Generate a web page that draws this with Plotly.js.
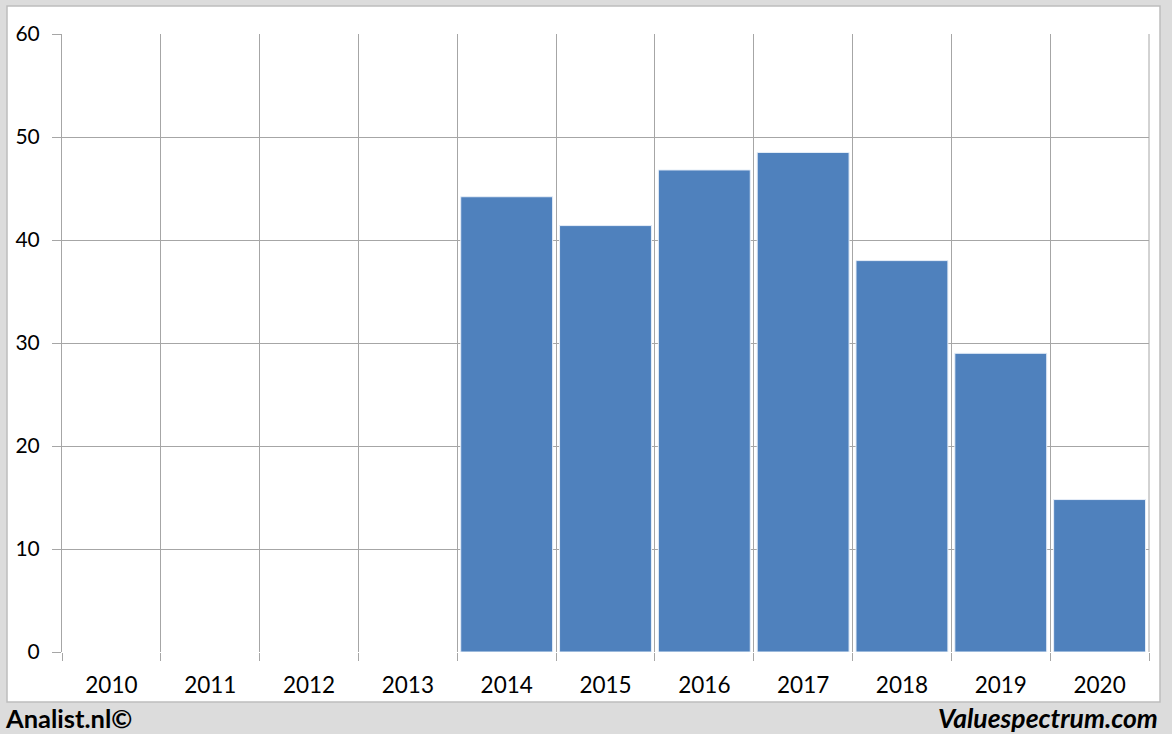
<!DOCTYPE html>
<html>
<head>
<meta charset="utf-8">
<script src="https://cdn.plot.ly/plotly-3.0.1.min.js"></script>
<style>
  html, body { margin: 0; padding: 0; background: #dcdcdc; }
  #chart { width: 1172px; height: 734px; }
</style>
</head>
<body>
<div id="chart"></div>
<script>
const years = ["2010","2011","2012","2013","2014","2015","2016","2017","2018","2019","2020"];
const values = [null, null, null, null, 44.2, 41.4, 46.8, 48.5, 38.0, 29.0, 14.8];
const yTicks = [0, 10, 20, 30, 40, 50, 60];
const leftCredit = "Analist.nl©";
const rightCredit = "Valuespectrum.com";

const trace = {
  type: "bar",
  x: years,
  y: values,
  width: 0.93,
  marker: { color: "#4f81bd", line: { color: "#e6eef8", width: 1 } },
  hoverinfo: "x+y"
};

const layout = {
  width: 1172,
  height: 734,
  margin: { l: 62, r: 23, t: 34, b: 82, pad: 0 },
  paper_bgcolor: "#dcdcdc",
  plot_bgcolor: "rgba(0,0,0,0)",
  showlegend: false,
  font: { family: "Lato, 'Open Sans', sans-serif", size: 21, color: "#000000" },
  xaxis: {
    type: "category",
    tickson: "boundaries",
    showgrid: true,
    gridcolor: "#a6a6a6",
    gridwidth: 1,
    ticks: "outside",
    ticklen: 8,
    tickcolor: "#a6a6a6",
    showline: false,
    zeroline: false,
    tickfont: { family: "Lato, sans-serif", size: 22.5, color: "#000" },
    ticklabelstandoff: 17,
    range: [-0.5, 10.5],
    fixedrange: true
  },
  yaxis: {
    range: [0, 60],
    tickvals: yTicks,
    ticktext: yTicks.map(String),
    showgrid: true,
    gridcolor: "#a6a6a6",
    gridwidth: 1,
    ticks: "outside",
    ticklen: 9,
    tickcolor: "#a6a6a6",
    showline: true,
    linecolor: "#a6a6a6",
    zeroline: false,
    tickfont: { family: "Lato, sans-serif", size: 21, color: "#000" },
    ticklabelstandoff: 8,
    fixedrange: true
  },
  shapes: [
    {
      type: "rect", xref: "paper", yref: "paper", layer: "below",
      x0: (7 - 62) / 1087, x1: (1160 - 62) / 1087,
      y0: (652 - 702) / 618, y1: (652 - 6) / 618,
      fillcolor: "#ffffff", line: { color: "#bdbdbd", width: 1.5 }
    },
    {
      type: "line", xref: "paper", yref: "paper", layer: "above",
      x0: 1, x1: 1, y0: 0, y1: 1,
      line: { color: "#a6a6a6", width: 1 }
    }
  ],
  annotations: [
    {
      text: "<b>" + leftCredit + "</b>", xref: "paper", yref: "paper",
      x: (3 - 62) / 1087, y: (652 - 718) / 618, xanchor: "left", yanchor: "middle",
      showarrow: false, font: { family: "Lato, sans-serif", size: 25.5, color: "#000" }
    },
    {
      text: "<b><i>" + rightCredit + "</i></b>", xref: "paper", yref: "paper",
      x: (1160 - 62) / 1087, y: (652 - 718) / 618, xanchor: "right", yanchor: "middle",
      showarrow: false, font: { family: "Lato, sans-serif", size: 26.5, color: "#000" }
    }
  ]
};

Plotly.newPlot("chart", [trace], layout, { displayModeBar: false, staticPlot: true });
</script>
</body>
</html>
